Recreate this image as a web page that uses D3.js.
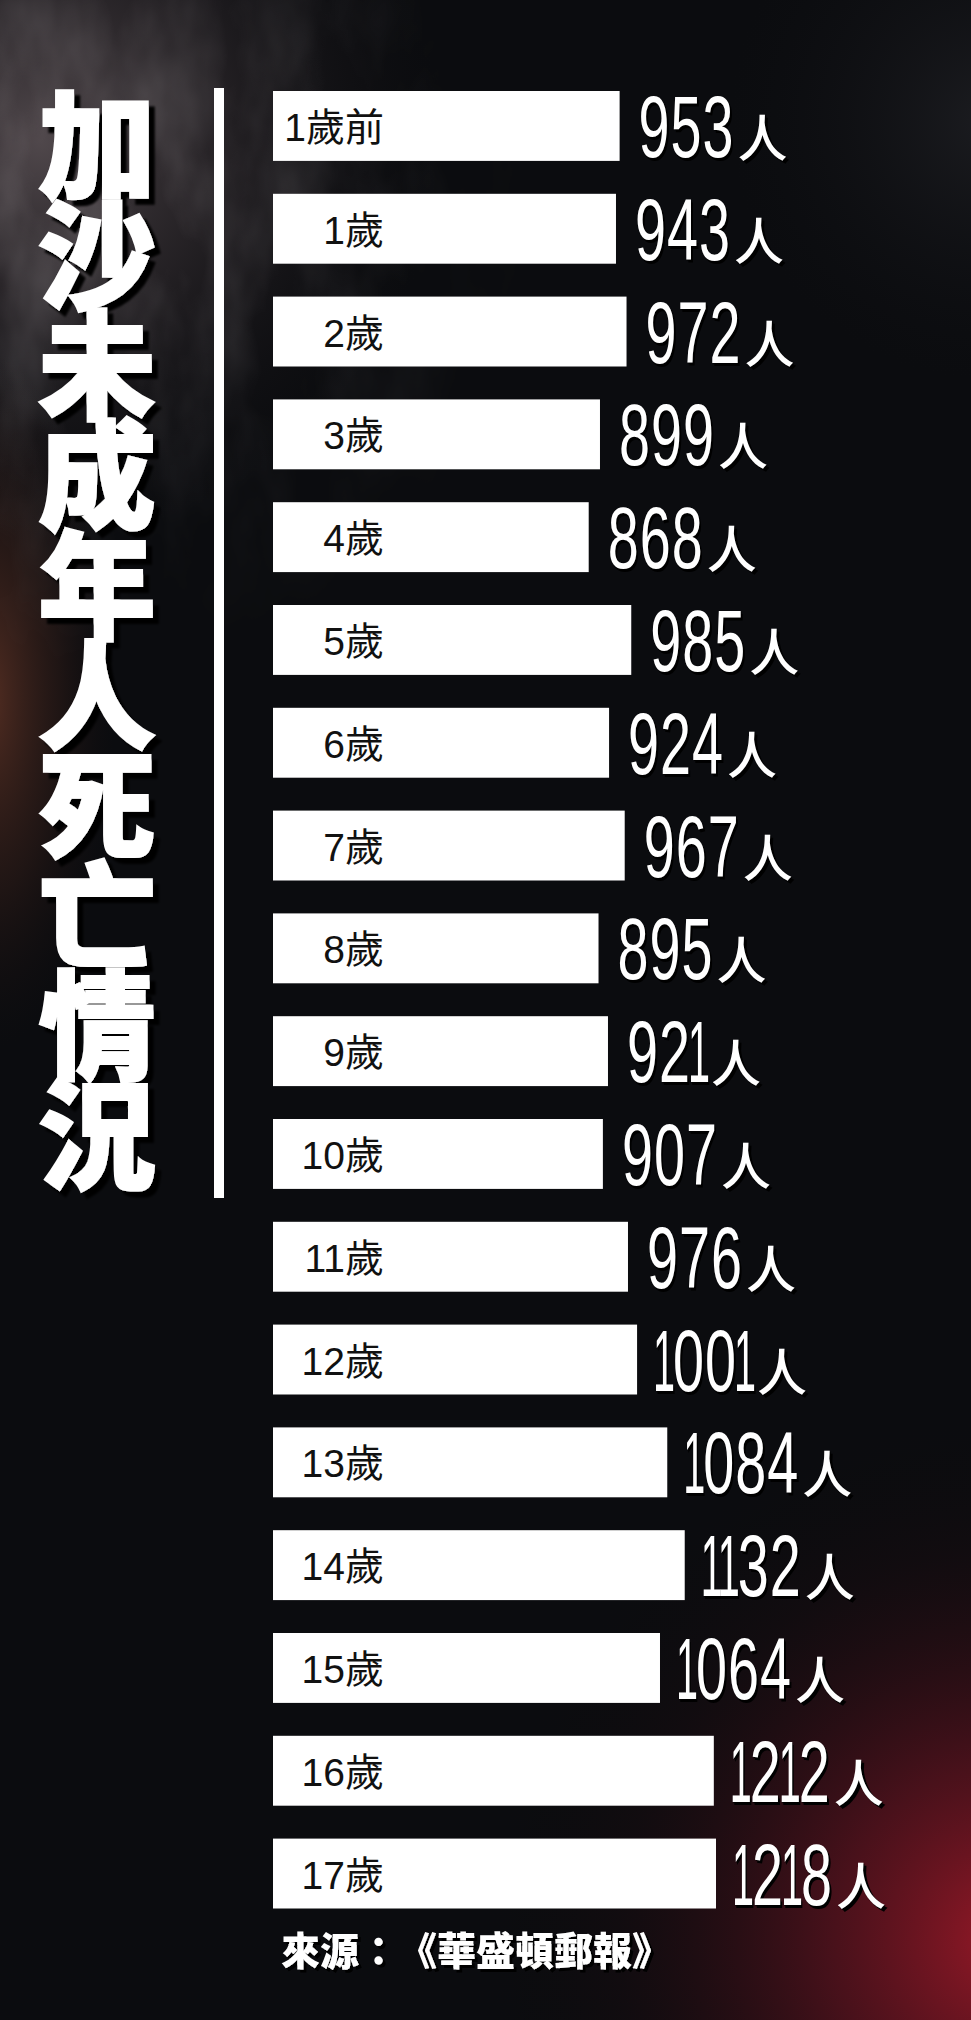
<!DOCTYPE html>
<html><head><meta charset="utf-8">
<script src="https://cdn.jsdelivr.net/npm/d3@7"></script>
<style>html,body{margin:0;padding:0;background:#0b0c0f;} svg{display:block;} text{text-spacing-trim:space-all;}
.val{text-shadow:3px 3px 0 #000, 1px 1px 1px #000;}</style>
</head><body><div id="chart"></div>
<script>
const categories = ["1歲前","1歲","2歲","3歲","4歲","5歲","6歲","7歲","8歲","9歲","10歲","11歲","12歲","13歲","14歲","15歲","16歲","17歲"];
const values = [953,943,972,899,868,985,924,967,895,921,907,976,1001,1084,1132,1064,1212,1218];
const unitLabel = "人";
const titleText = "加沙未成年人死亡情況";
const sourceText = "來源：《華盛頓郵報》";

const W = 971, H = 2020;
const svg = d3.select("#chart").append("svg").attr("width", W).attr("height", H);
const defs = svg.append("defs");

function radial(id, cx, cy, r, stops, tf) {
  const g = defs.append("radialGradient").attr("id", id).attr("gradientUnits", "userSpaceOnUse")
    .attr("cx", cx).attr("cy", cy).attr("r", r);
  if (tf) g.attr("gradientTransform", tf);
  stops.forEach(s => g.append("stop").attr("offset", s[0]).attr("stop-color", s[1]).attr("stop-opacity", s[2]));
}
radial("smokeTL", 40, 140, 400, [[0, "#6e6266", 0.7], [0.45, "#4a4044", 0.4], [1, "#1a1618", 0]]);
radial("brownL", 0, 0, 1, [[0, "#6a3828", 0.75], [0.55, "#3e231c", 0.4], [1, "#1a1010", 0]],
  "translate(-10,700) scale(125,350)");
radial("redBR", 1010, 1940, 520, [[0, "#a81a2a", 0.9], [0.35, "#6e1422", 0.6], [0.75, "#2a0c12", 0.2], [1, "#100808", 0]]);
radial("greyTR", 990, 120, 260, [[0, "#3a3a40", 0.35], [1, "#16161a", 0]]);

const smoke = defs.append("filter").attr("id", "smokeTex").attr("x", 0).attr("y", 0).attr("width", "100%").attr("height", "100%");
smoke.append("feTurbulence").attr("type", "fractalNoise").attr("baseFrequency", "0.012 0.006").attr("numOctaves", 4).attr("seed", 7);
smoke.append("feColorMatrix").attr("type", "matrix")
  .attr("values", "0 0 0 0 0.75  0 0 0 0 0.7  0 0 0 0 0.72  1.4 0 0 0 -0.55");
const mask = defs.append("mask").attr("id", "smokeMask");
radial("maskGrad", 60, 200, 480, [[0, "#fff", 1], [0.6, "#fff", 0.4], [1, "#fff", 0]]);
mask.append("rect").attr("width", W).attr("height", H).attr("fill", "url(#maskGrad)");

function shadow(id, d, blur) {
  const f = defs.append("filter").attr("id", id).attr("x", "-15%").attr("y", "-30%").attr("width", "140%").attr("height", "170%");
  f.append("feDropShadow").attr("dx", d).attr("dy", d).attr("stdDeviation", blur)
    .attr("flood-color", "#000").attr("flood-opacity", 1);
}
shadow("shTitle", 6, 0.8);
shadow("shSrc", 3, 0.6);

// background
svg.append("rect").attr("width", W).attr("height", H).attr("fill", "#0b0c0f");
svg.append("rect").attr("width", W).attr("height", H).attr("fill", "url(#smokeTL)");
svg.append("rect").attr("width", W).attr("height", H).attr("fill", "url(#brownL)");
svg.append("rect").attr("width", W).attr("height", H).attr("fill", "url(#greyTR)");
svg.append("rect").attr("width", W).attr("height", H).attr("fill", "url(#redBR)");
svg.append("rect").attr("width", W).attr("height", H).attr("filter", "url(#smokeTex)")
  .attr("mask", "url(#smokeMask)").attr("opacity", 0.35);

// scales
const x = d3.scaleLinear().domain([0, 1218]).range([273, 716]);
const y = d3.scaleBand().domain(categories).range([91, 1908.5]).paddingInner(0.32).paddingOuter(0);
const bw = y.bandwidth();

// title (vertical)
svg.append("text")
  .attr("x", 97).attr("y", 86)
  .style("writing-mode", "vertical-rl")
  .style("letter-spacing", "-8px")
  .attr("font-family", "'Noto Sans CJK TC','Noto Sans CJK SC',sans-serif")
  .attr("font-weight", 900).attr("font-size", 118).attr("fill", "#fff")
  .attr("stroke", "#fff").attr("stroke-width", 2.2)
  .attr("filter", "url(#shTitle)")
  .text(titleText);

// divider line
svg.append("rect").attr("x", 214).attr("y", 88).attr("width", 10).attr("height", 1110).attr("fill", "#fff");

// bars
const data = categories.map((c, i) => ({ c, v: values[i] }));
svg.append("g").selectAll("rect").data(data).join("rect")
  .attr("x", x(0)).attr("y", d => y(d.c)).attr("width", d => x(d.v) - x(0)).attr("height", bw)
  .attr("fill", "#fff");

// category labels
svg.append("g").selectAll("text").data(data).join("text")
  .attr("x", 384).attr("y", d => y(d.c) + bw / 2 + 15)
  .attr("text-anchor", "end")
  .attr("font-family", "'Liberation Sans','Noto Sans CJK TC',sans-serif")
  .attr("font-size", 39).attr("fill", "#111").text(d => d.c);

// value labels: condensed digits via per-glyph textLength, unit as tspan
svg.append("g").selectAll("text").data(data).join("text")
  .attr("class", "val")
  .attr("fill", "#fff")
  .each(function (d) {
    const t = d3.select(this);
    const x0 = x(d.v) + 19, base = y(d.c) + 66;
    let pos = x0;
    Array.from(String(d.v)).forEach(ch => {
      const sp = t.append("tspan").attr("y", base)
        .attr("font-family", "'Liberation Sans',Arial,sans-serif").attr("font-size", 87)
        .attr("lengthAdjust", "spacingAndGlyphs").text(ch);
      if (ch === "1") { sp.attr("x", pos - 3).attr("textLength", 22); pos += 17; }
      else { sp.attr("x", pos).attr("textLength", 31); pos += 32; }
    });
    t.append("tspan").attr("x", pos + 3).attr("y", base)
      .attr("font-family", "'Noto Sans CJK TC','Noto Sans CJK SC',sans-serif")
      .attr("font-weight", 500).attr("font-size", 50).text(unitLabel);
  });

// source
svg.append("text").attr("x", 281).attr("y", 1965)
  .attr("font-family", "'Noto Sans CJK TC','Noto Sans CJK SC',sans-serif")
  .attr("font-weight", 900).attr("font-size", 39).attr("fill", "#fff")
  .attr("filter", "url(#shSrc)").text(sourceText);
</script></body></html>
